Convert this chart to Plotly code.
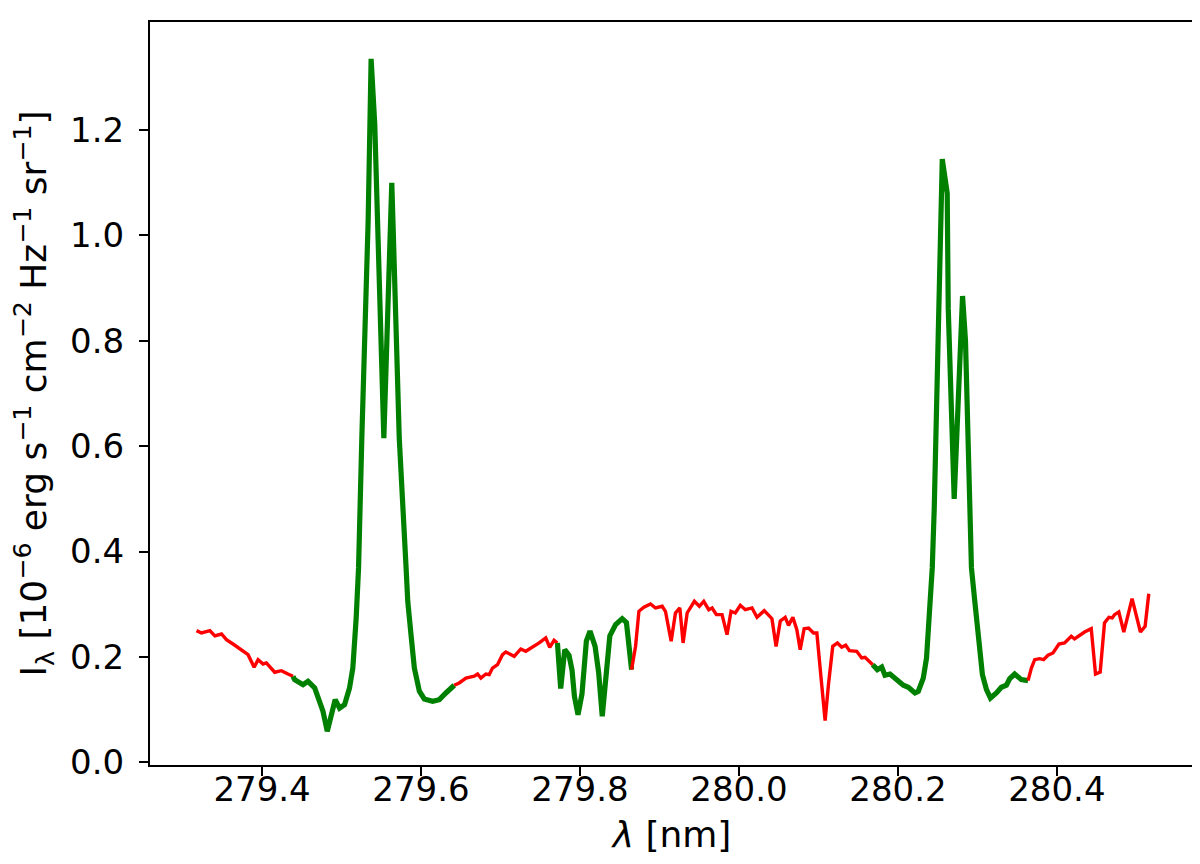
import plotly.graph_objects as go

# Wavelength [nm] and intensity [1e-6 erg s^-1 cm^-2 Hz^-1 sr^-1]
wavelength = [
    279.3175, 279.3238, 279.3343, 279.3406, 279.3490, 279.3552, 279.3657, 279.3761, 279.3824,
    279.3900, 279.3950, 279.4013, 279.4054, 279.4159, 279.4243, 279.4326, 279.4389,
    279.4410, 279.4515, 279.4578, 279.4662, 279.4724, 279.4766, 279.4820, 279.4870, 279.4920,
    279.4975, 279.5038, 279.5100, 279.5142, 279.5184, 279.5214, 279.5255, 279.5335, 279.5372,
    279.5418, 279.5532, 279.5632, 279.5648, 279.5726, 279.5812, 279.5833, 279.5874, 279.5916,
    279.5979, 279.6041, 279.6146, 279.6230, 279.6313, 279.6418,
    279.6480, 279.6565, 279.6670, 279.6712, 279.6753, 279.6816, 279.6858, 279.6899, 279.6962,
    279.7025, 279.7067, 279.7172, 279.7255, 279.7318, 279.7423, 279.7486, 279.7569, 279.7619,
    279.7674, 279.7716,
    279.7757, 279.7808, 279.7862, 279.7900, 279.7930, 279.7975, 279.8025, 279.8080, 279.8126,
    279.8190, 279.8235, 279.8280, 279.8335, 279.8375, 279.8448, 279.8531, 279.8584, 279.8620,
    279.8649,
    279.8699, 279.8741, 279.8804, 279.8887, 279.8950, 279.9034, 279.9075, 279.9147, 279.9201,
    279.9256, 279.9297, 279.9348, 279.9439, 279.9502, 279.9557, 279.9620, 279.9662, 279.9716,
    279.9787, 279.9850, 279.9900, 279.9954, 280.0017, 280.0080, 280.0164, 280.0227, 280.0318,
    280.0415, 280.0467, 280.0520, 280.0582, 280.0624, 280.0678, 280.0728, 280.0770, 280.0820,
    280.0875, 280.0938, 280.0980, 280.1029, 280.1084, 280.1126, 280.1180, 280.1239, 280.1293,
    280.1343, 280.1390, 280.1482, 280.1544, 280.1586, 280.1683,
    280.1741, 280.1796, 280.1837, 280.1900, 280.2005, 280.2068, 280.2131, 280.2214, 280.2256,
    280.2319, 280.2360, 280.2402, 280.2432, 280.2457, 280.2507, 280.2558, 280.2620, 280.2633,
    280.2708, 280.2813, 280.2850, 280.2904, 280.2925, 280.2967, 280.3010, 280.3063, 280.3114,
    280.3164, 280.3239, 280.3302, 280.3365, 280.3407, 280.3469, 280.3553, 280.3637,
    280.3679, 280.3721, 280.3783, 280.3833, 280.3888, 280.3951, 280.4026, 280.4097, 280.4181,
    280.4222, 280.4294, 280.4348, 280.4432, 280.4486, 280.4545, 280.4599, 280.4654, 280.4696,
    280.4725, 280.4779, 280.4842, 280.4946, 280.5051, 280.5110, 280.5156,
]

intensity = [
    0.250, 0.2455, 0.250, 0.240, 0.2436, 0.2329, 0.2222, 0.212, 0.2044,
    0.1805, 0.1949, 0.1867, 0.1886, 0.171, 0.174, 0.1677, 0.1633,
    0.157, 0.1474, 0.1538, 0.1412, 0.116, 0.097, 0.059, 0.0905, 0.119,
    0.103, 0.1095, 0.141, 0.179, 0.274, 0.369, 0.6155, 1.03, 1.335,
    1.21, 0.615, 1.10, 1.02, 0.6155, 0.369, 0.3057, 0.2423, 0.179,
    0.135, 0.1203, 0.116, 0.119, 0.1317, 0.1463,
    0.1507, 0.160, 0.1634, 0.1677, 0.160, 0.1677, 0.1664, 0.179, 0.1854,
    0.2044, 0.2095, 0.2013, 0.2152, 0.2108, 0.2203, 0.2266, 0.236, 0.2184,
    0.2317, 0.2266,
    0.140, 0.2139, 0.2032, 0.175, 0.125, 0.0905, 0.130, 0.230, 0.249,
    0.220, 0.170, 0.0875, 0.180, 0.240, 0.2613, 0.2727, 0.2655, 0.210,
    0.176,
    0.2203, 0.2867, 0.2943, 0.3006, 0.293, 0.2962, 0.2867, 0.2298, 0.2835,
    0.293, 0.2266, 0.2835, 0.3057, 0.2962, 0.3057, 0.2898, 0.293, 0.2803,
    0.2803, 0.2423, 0.2867, 0.2835, 0.2981, 0.2898, 0.293, 0.2753, 0.2879,
    0.2727, 0.2200, 0.2683, 0.2753, 0.260, 0.2753, 0.2518, 0.2139, 0.2537,
    0.255, 0.2455, 0.2455, 0.1664, 0.0791, 0.1474, 0.2203, 0.2266, 0.2184,
    0.2222, 0.212, 0.2108, 0.1981, 0.1994, 0.1854,
    0.176, 0.181, 0.1653, 0.1677, 0.155, 0.1463, 0.1425, 0.1317, 0.1349,
    0.160, 0.198, 0.293, 0.369, 0.4827, 0.805, 1.145, 1.08, 0.862,
    0.50, 0.885, 0.80, 0.4827, 0.369, 0.3057, 0.2423, 0.1664, 0.138,
    0.122, 0.1317, 0.1425, 0.1463, 0.1588, 0.1677, 0.157, 0.155,
    0.179, 0.1949, 0.1968, 0.1949, 0.2032, 0.2076, 0.2247, 0.2266, 0.2393,
    0.2342, 0.2423, 0.2474, 0.2537, 0.1677, 0.1715, 0.2645, 0.2753, 0.274,
    0.2803, 0.2854, 0.2474, 0.3106, 0.2474, 0.2582, 0.320,
]

# Wavelength windows drawn in green (the rest is red)
green_windows = [(279.4389, 279.6418), (279.7716, 279.8649), (280.1683, 280.3637)]

x_ticks = [279.4, 279.6, 279.8, 280.0, 280.2, 280.4]
y_ticks = [0.0, 0.2, 0.4, 0.6, 0.8, 1.0, 1.2]


def in_green(w):
    return any(a <= w <= b for a, b in green_windows)


# Split into colored runs (consecutive segments share their end points)
runs = []
for i in range(len(wavelength) - 1):
    mid = 0.5 * (wavelength[i] + wavelength[i + 1])
    col = "green" if in_green(mid) else "red"
    if runs and runs[-1][0] == col:
        runs[-1][1].append(i + 1)
    else:
        runs.append([col, [i, i + 1]])

fig = go.Figure()
for col, idx in runs:
    fig.add_trace(go.Scatter(
        x=[wavelength[k] for k in idx],
        y=[intensity[k] for k in idx],
        mode="lines",
        line=dict(color="#008000" if col == "green" else "#ff0000",
                  width=5.2 if col == "green" else 3.4),
        showlegend=False,
        hoverinfo="skip",
    ))

font = dict(family="DejaVu Sans", size=34, color="black")
title_font = dict(family="DejaVu Sans", size=36, color="black")

fig.update_layout(
    width=1200, height=864,
    margin=dict(l=142, r=12, t=14, b=107),
    paper_bgcolor="white", plot_bgcolor="white",
    font=font,
    showlegend=False,
)
fig.update_xaxes(
    range=[279.259, 280.5725],
    tickvals=x_ticks, ticktext=[f"{v:.1f}" for v in x_ticks],
    ticks="outside", ticklen=9, tickwidth=2, tickcolor="black",
    ticklabelstandoff=-16,
    showline=True, linecolor="black", linewidth=2, mirror=True,
    showgrid=False, zeroline=False,
    title=dict(text="<i>λ</i> [nm]", font=title_font, standoff=14),
)
fig.update_yaxes(
    range=[-0.005, 1.405],
    tickvals=y_ticks, ticktext=[f"{v:.1f}" for v in y_ticks],
    ticks="outside", ticklen=9, tickwidth=2, tickcolor="black",
    ticklabelstandoff=8,
    showline=True, linecolor="black", linewidth=2, mirror=True,
    showgrid=False, zeroline=False,
    title=dict(text="I<sub>λ</sub> [10<sup>−6</sup> erg s<sup>−1</sup> cm<sup>−2</sup> Hz<sup>−1</sup> sr<sup>−1</sup>]",
               font=title_font, standoff=18),
)

fig.write_html("out.html")
